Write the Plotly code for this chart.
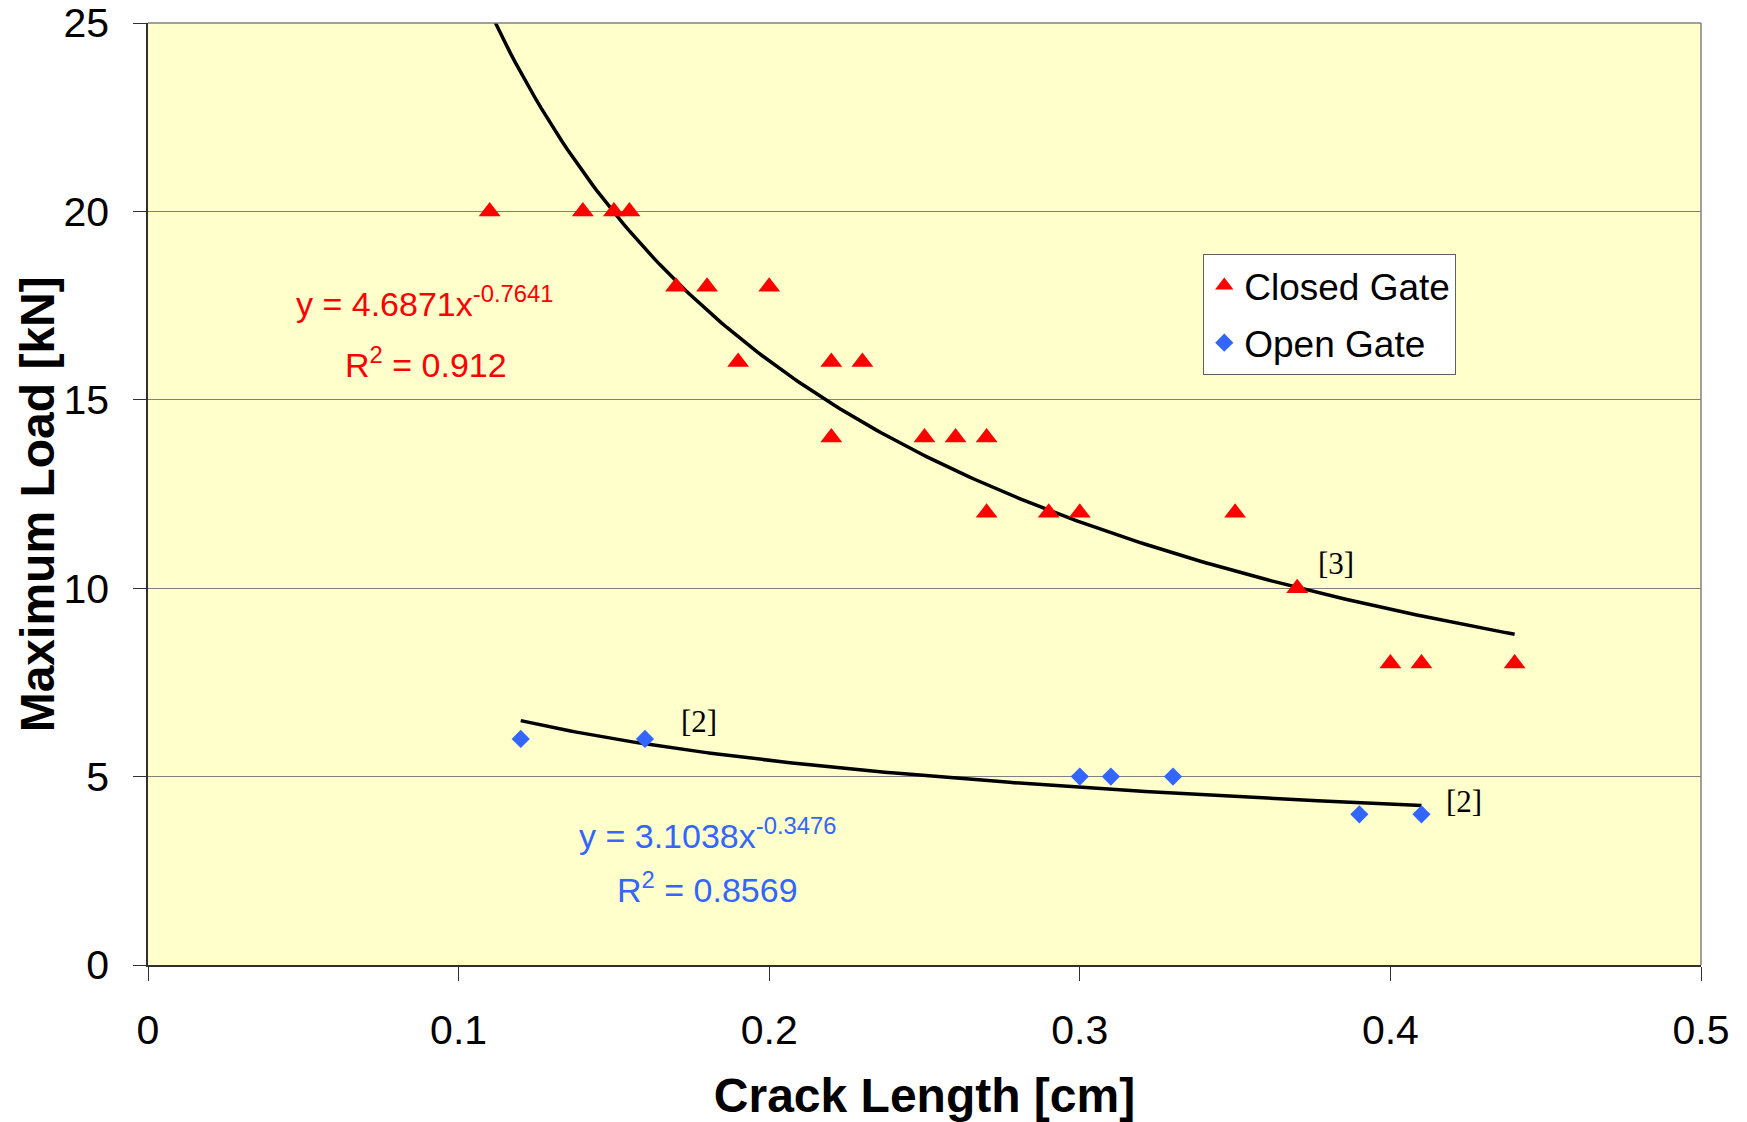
import numpy as np
import plotly.graph_objects as go

# ---- data ----
closed_x = [0.11, 0.14, 0.15, 0.155, 0.17, 0.18, 0.20, 0.19, 0.22, 0.23,
            0.22, 0.25, 0.26, 0.27, 0.27, 0.29, 0.30, 0.35, 0.37, 0.40, 0.41, 0.44]
closed_y = [20, 20, 20, 20, 18, 18, 18, 16, 16, 16,
            14, 14, 14, 14, 12, 12, 12, 12, 10, 8, 8, 8]

open_x = [0.12, 0.16, 0.30, 0.31, 0.33, 0.39, 0.41]
open_y = [6, 6, 5, 5, 5, 4, 4]

# power trendlines as printed on the chart: y = a * x^b
closed_a, closed_b = 4.6871, -0.7641
open_a, open_b = 3.1038, -0.3476

x_ticks = [0, 0.1, 0.2, 0.3, 0.4, 0.5]
y_ticks = [0, 5, 10, 15, 20, 25]

FONT = "Arial, Liberation Sans, sans-serif"
SERIF = "Times New Roman, Liberation Serif, serif"
RED = "#FF0000"
BLUE = "#3366FF"

fig = go.Figure()

# trendlines
cx = np.linspace(min(closed_x), max(closed_x), 200)
ox = np.linspace(min(open_x), max(open_x), 200)
fig.add_trace(go.Scatter(x=cx, y=closed_a * cx ** closed_b, mode="lines",
                         line=dict(color="black", width=3.5), showlegend=False,
                         hoverinfo="skip"))
fig.add_trace(go.Scatter(x=ox, y=open_a * ox ** open_b, mode="lines",
                         line=dict(color="black", width=3.5), showlegend=False,
                         hoverinfo="skip"))

fig.add_trace(go.Scatter(x=closed_x, y=closed_y, mode="markers", name="Closed Gate",
                         legendgroup="closed",
                         marker=dict(symbol="triangle-up", size=19, color=RED)))
fig.add_trace(go.Scatter(x=open_x, y=open_y, mode="markers", name="Open Gate",
                         legendgroup="open",
                         marker=dict(symbol="diamond", size=14, color=BLUE)))

annos = [
    dict(x=0.089, y=17.6, text="y = 4.6871x<sup>-0.7641</sup>", color=RED, font=FONT, size=34),
    dict(x=0.0895, y=16.0, text="R<sup>2</sup> = 0.912", color=RED, font=FONT, size=34),
    dict(x=0.180, y=3.50, text="y = 3.1038x<sup>-0.3476</sup>", color=BLUE, font=FONT, size=34),
    dict(x=0.180, y=2.05, text="R<sup>2</sup> = 0.8569", color=BLUE, font=FONT, size=34),
    dict(x=0.3825, y=10.65, text="[3]", color="black", font=SERIF, size=31),
    dict(x=0.1773, y=6.45, text="[2]", color="black", font=SERIF, size=31),
    dict(x=0.4237, y=4.33, text="[2]", color="black", font=SERIF, size=31),
]
for a in annos:
    fig.add_annotation(x=a["x"], y=a["y"], xref="x", yref="y", text=a["text"],
                       showarrow=False, xanchor="center", yanchor="middle",
                       font=dict(family=a["font"], size=a["size"], color=a["color"]))

# y-axis title placed as a rotated annotation for exact position
fig.add_annotation(x=-0.0715, y=0.489, xref="paper", yref="paper",
                   text="<b>Maximum Load [kN]</b>", textangle=-90, showarrow=False,
                   xanchor="center", yanchor="middle",
                   font=dict(family=FONT, size=48, color="black"))

# top and right border of plot area (gray)
fig.add_shape(type="line", xref="paper", yref="paper", x0=0, x1=1, y0=1, y1=1,
              line=dict(color="#808080", width=1.5))
fig.add_shape(type="line", xref="paper", yref="paper", x0=1, x1=1, y0=0, y1=1,
              line=dict(color="#808080", width=1.5))

fig.update_layout(
    width=1747, height=1122,
    margin=dict(l=148, r=46, t=23, b=157),
    paper_bgcolor="white",
    plot_bgcolor="#FFFFCC",
    font=dict(family=FONT, color="black"),
    legend=dict(x=0.6795, y=0.7548, xanchor="left", yanchor="top",
                bgcolor="white", bordercolor="#606060", borderwidth=1,
                traceorder="grouped", tracegroupgap=6,
                font=dict(family=FONT, size=37, color="black")),
    xaxis=dict(range=[0, 0.5], tickvals=x_ticks, ticktext=[str(v) for v in x_ticks],
               showgrid=False, zeroline=False, showline=True, linecolor="#303030",
               linewidth=1.5, ticks="outside", ticklen=14, tickcolor="#303030",
               tickfont=dict(size=41), ticklabelstandoff=14, automargin=False,
               title=dict(text="<b>Crack Length [cm]</b>", font=dict(size=48), standoff=26)),
    yaxis=dict(range=[0, 25], tickvals=y_ticks, ticktext=[str(v) for v in y_ticks],
               showgrid=True, gridcolor="#808080", gridwidth=1, zeroline=False,
               showline=True, linecolor="#303030", linewidth=1.5,
               ticks="outside", ticklen=13, tickcolor="#303030",
               tickfont=dict(size=41), ticklabelstandoff=16, automargin=False),
)

fig.write_html("out.html")
